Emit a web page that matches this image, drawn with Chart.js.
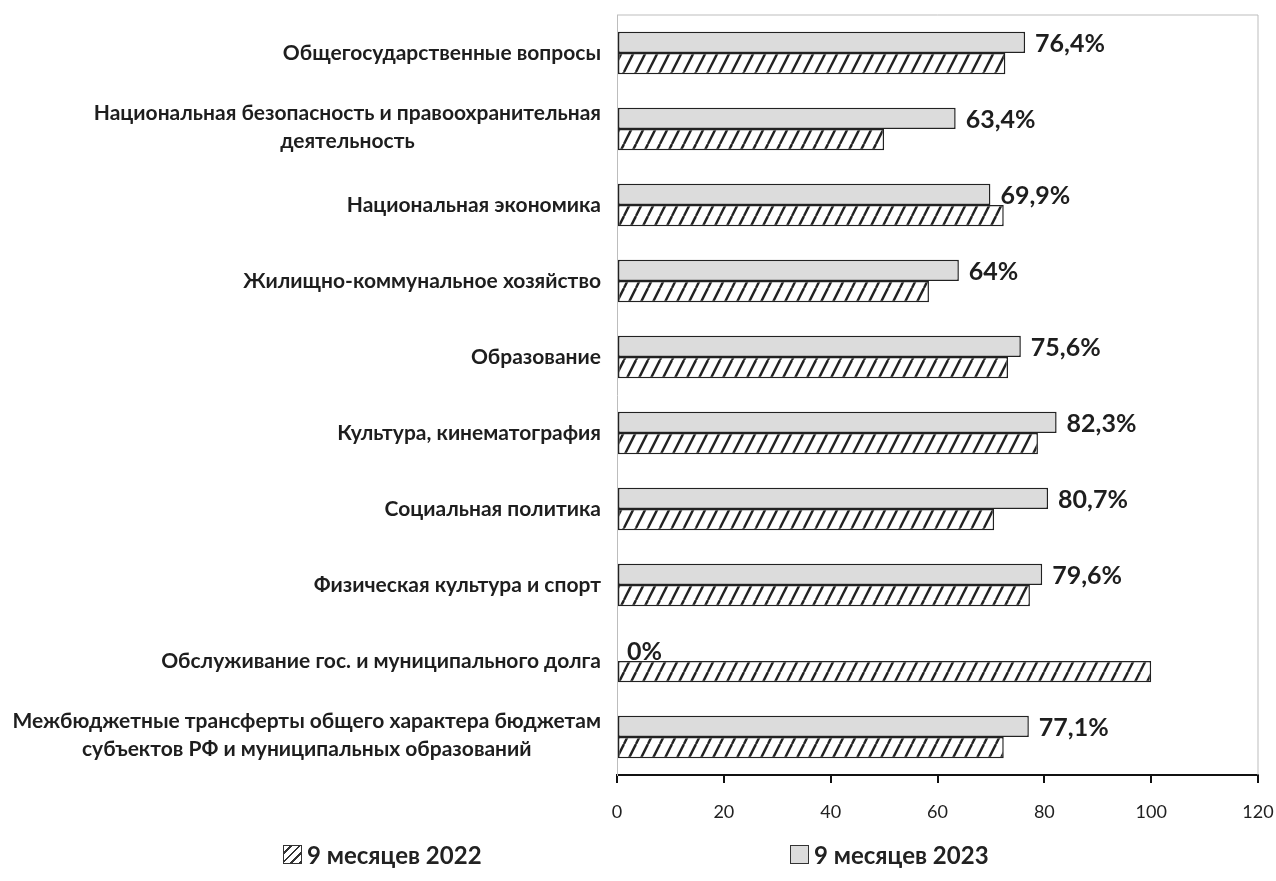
<!DOCTYPE html>
<html>
<head>
<meta charset="utf-8">
<script src="https://cdn.jsdelivr.net/npm/chart.js@4.4.1/dist/chart.umd.min.js"></script>
<style>
  body { margin: 0; background: #fff; }
  #wrap { position: relative; width: 1276px; height: 881px; }
  .leg { position: absolute; top: 840px; display: flex; align-items: center; font-family: Lato, sans-serif; font-weight: 700; font-size: 24px; color: #222; }
  .sw { width: 19px; height: 19px; border: 1.5px solid #333; margin-right: 5px; box-sizing: border-box; }
</style>
</head>
<body>
<div id="wrap">
  <canvas id="chart" width="1276" height="881"></canvas>
  <div class="leg" style="left:283px"><div class="sw" style="background:repeating-linear-gradient(135deg,#fff 0 4px,#333 4px 6px)"></div>9 месяцев 2022</div>
  <div class="leg" style="left:790px"><div class="sw" style="background:#dcdcdc"></div>9 месяцев 2023</div>
</div>
<script>
const categories = [
  ['Общегосударственные вопросы'],
  ['Национальная безопасность и правоохранительная', 'деятельность'],
  ['Национальная экономика'],
  ['Жилищно-коммунальное хозяйство'],
  ['Образование'],
  ['Культура, кинематография'],
  ['Социальная политика'],
  ['Физическая культура и спорт'],
  ['Обслуживание гос. и муниципального долга'],
  ['Межбюджетные трансферты общего характера бюджетам', 'субъектов РФ и муниципальных образований']
];
const values2023 = [76.4, 63.4, 69.9, 64, 75.6, 82.3, 80.7, 79.6, 0, 77.1];
const values2022 = [72.7, 50.0, 72.4, 58.4, 73.2, 78.8, 70.6, 77.3, 100, 72.4];
const seriesNames = ['9 месяцев 2023', '9 месяцев 2022'];
const xMin = 0, xMax = 120, xStep = 20;

function makeHatch() {
  const c = document.createElement('canvas');
  c.width = 12; c.height = 24;
  const g = c.getContext('2d');
  g.fillStyle = '#fff';
  g.fillRect(0, 0, 12, 24);
  g.strokeStyle = '#222';
  g.lineWidth = 2.4;
  for (const o of [-12, 0, 12]) {
    g.beginPath();
    g.moveTo(o, 24);
    g.lineTo(o + 12, 0);
    g.stroke();
  }
  return document.getElementById('chart').getContext('2d').createPattern(c, 'repeat');
}

// value labels next to 2023 bars
const valueLabels = {
  id: 'valueLabels',
  afterDatasetsDraw(chart) {
    const ctx = chart.ctx;
    const meta = chart.getDatasetMeta(0);
    ctx.save();
    ctx.font = 'bold 25px Lato';
    ctx.fillStyle = '#1e1e1e';
    ctx.textBaseline = 'middle';
    meta.data.forEach((bar, i) => {
      const txt = String(values2023[i]).replace('.', ',') + '%';
      ctx.fillText(txt, bar.x + 10, bar.y + 2);
    });
    ctx.restore();
  }
};

// frame + category labels (multi-line centred, block right-aligned)
const frameAndLabels = {
  id: 'frameAndLabels',
  beforeDatasetsDraw(chart) {
    const { ctx, chartArea: a } = chart;
    ctx.save();
    ctx.strokeStyle = '#bdbdbd';
    ctx.lineWidth = 1;
    ctx.beginPath();
    ctx.moveTo(a.left, a.top);
    ctx.lineTo(a.right, a.top);
    ctx.lineTo(a.right, a.bottom);
    ctx.stroke();
    ctx.restore();
  },
  afterDraw(chart) {
    const ctx = chart.ctx;
    const y = chart.scales.y;
    const right = chart.chartArea.left - 16;
    ctx.save();
    ctx.font = 'bold 21px Lato';
    ctx.fillStyle = '#1e1e1e';
    ctx.textAlign = 'center';
    ctx.textBaseline = 'middle';
    categories.forEach((lines, i) => {
      const w = Math.max(...lines.map(l => ctx.measureText(l).width));
      const cx = right - w / 2;
      const py = y.getPixelForTick(i);
      const lh = 28;
      lines.forEach((l, j) => {
        ctx.fillText(l, cx, py + (j - (lines.length - 1) / 2) * lh - (lines.length > 1 ? 2 : 0));
      });
    });
    ctx.restore();
  }
};

new Chart(document.getElementById('chart'), {
  type: 'bar',
  data: {
    labels: categories,
    datasets: [
      {
        label: seriesNames[0],
        data: values2023,
        backgroundColor: '#dcdcdc',
        borderColor: '#222',
        borderWidth: 1.5,
        borderSkipped: false
      },
      {
        label: seriesNames[1],
        data: values2022,
        backgroundColor: makeHatch(),
        borderColor: '#222',
        borderWidth: 1.5,
        borderSkipped: false
      }
    ]
  },
  options: {
    indexAxis: 'y',
    responsive: false,
    animation: false,
    categoryPercentage: 0.56,
    barPercentage: 1.0,
    layout: { padding: { top: 15, right: 18, bottom: 56, left: 0 } },
    plugins: {
      legend: { display: false },
      tooltip: { enabled: false }
    },
    scales: {
      x: {
        min: xMin,
        max: xMax,
        ticks: { stepSize: xStep, padding: 18, color: '#222', font: { family: 'Lato', size: 18 } },
        grid: { drawOnChartArea: false, drawTicks: true, tickLength: 8, color: '#111', lineWidth: 2 },
        border: { color: '#111', width: 2 },
        afterFit(s) { s.height = 50; s.paddingLeft = 0; s.paddingRight = 0; }
      },
      y: {
        ticks: { display: false },
        grid: { display: false },
        border: { color: '#bdbdbd', width: 1 },
        afterFit(s) { s.width = 617; }
      }
    }
  },
  plugins: [frameAndLabels, valueLabels]
});
</script>
</body>
</html>
